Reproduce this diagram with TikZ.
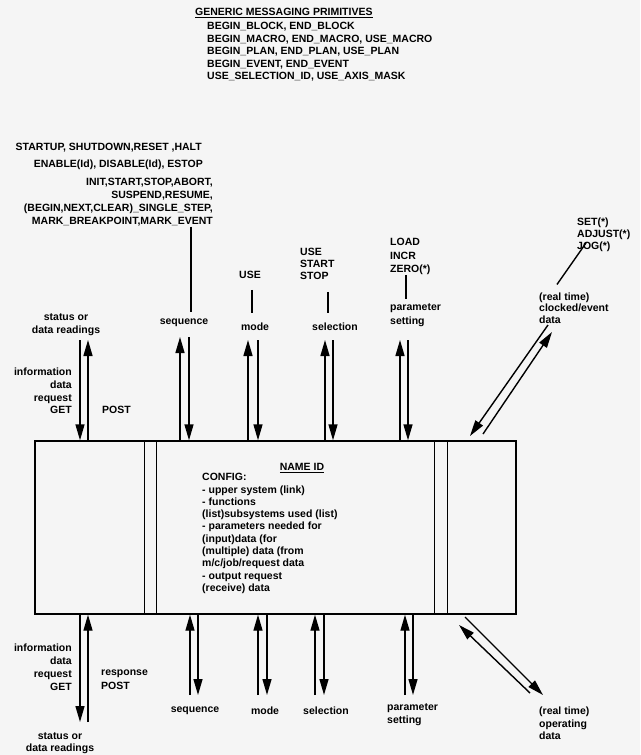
\documentclass[tikz,border=0pt]{standalone}
\usepackage{fontspec}
\setmainfont{Liberation Sans}
\usepackage{tikz}
\usetikzlibrary{positioning, arrows.meta, calc}

\begin{document}
\begin{tikzpicture}[x=1pt, y=-1pt,
    lbl/.style={font=\fontsize{10.5}{12.5}\selectfont\bfseries, inner sep=0pt},
    sig/.style={line width=1.4pt, -{Triangle[length=16pt, width=9pt]}},
    tick/.style={line width=1.4pt},
    boxline/.style={line width=1.4pt}]
  \fill[black!4] (0,0) rectangle (640,755);
  \useasboundingbox (0,0) rectangle (640,755);

  % generic primitives
  \node[lbl, anchor=west] (title) at (195,13) {\underline{GENERIC MESSAGING PRIMITIVES}};
  \node[lbl, anchor=west, align=left] (prims) at (207,52) {BEGIN\_BLOCK, END\_BLOCK\\
    BEGIN\_MACRO, END\_MACRO, USE\_MACRO\\BEGIN\_PLAN, END\_PLAN, USE\_PLAN\\
    BEGIN\_EVENT, END\_EVENT\\USE\_SELECTION\_ID, USE\_AXIS\_MASK};

  % commands
  \node[lbl, anchor=east] (startup) at (202,148) {STARTUP, SHUTDOWN,RESET ,HALT};
  \node[lbl, anchor=east] (enable) at (203,165) {ENABLE(Id), DISABLE(Id), ESTOP};
  \node[lbl, anchor=east, align=right, font=\fontsize{10.5}{13}\selectfont\bfseries] (seqcmd) at (213,202.5)
    {INIT,START,STOP,ABORT,\\SUSPEND,RESUME,\\(BEGIN,NEXT,CLEAR)\_SINGLE\_STEP,\\MARK\_BREAKPOINT,MARK\_EVENT};
  \node[lbl] (modecmd) at (250,275) {USE};
  \node[lbl, anchor=west, align=left, font=\fontsize{10.5}{12}\selectfont\bfseries] (selcmd) at (300,264) {USE\\START\\STOP};
  \node[lbl, anchor=west, align=left, font=\fontsize{10.5}{13.5}\selectfont\bfseries] (parcmd) at (390,256.5) {LOAD\\INCR\\ZERO(*)};
  \node[lbl, anchor=west, align=left, font=\fontsize{10.5}{12}\selectfont\bfseries] (jog) at (577,235) {SET(*)\\ADJUST(*)\\JOG(*)};

  % labels above the unit
  \node[lbl, align=center] (stattop) at (66,324.5) {status or\\data readings};
  \node[lbl] (seqtop) at (184,323) {sequence};
  \node[lbl] (modetop) at (255,327) {mode};
  \node[lbl] (seltop) at (335,327) {selection};
  \node[lbl, anchor=west, align=left, font=\fontsize{10.5}{14}\selectfont\bfseries] (partop) at (390,315) {parameter\\setting};
  \node[lbl, anchor=west, align=left, font=\fontsize{10.5}{11.5}\selectfont\bfseries] (rttop) at (539,308) {(real time)\\clocked/event\\data};
  \node[lbl, anchor=east, align=right, font=\fontsize{10.5}{12.7}\selectfont\bfseries] (reqtop) at (72,391) {information\\data\\request\\GET};
  \node[lbl, anchor=west] (posttop) at (102,410) {POST};

  \coordinate (seqx) at (191,0);
  \coordinate (modex) at (252,0);
  \coordinate (selx) at (328,0);
  \coordinate (parx) at (406,0);
  \draw[tick, shorten >=7pt] (seqcmd.south -| seqx) -- (seqtop.north -| seqx);
  \draw[tick, shorten <=11pt, shorten >=10pt] (modecmd.south -| modex) -- (modetop.north -| modex);
  \draw[tick, shorten <=12pt, shorten >=10pt] (selcmd.south -| selx) -- (seltop.north -| selx);
  \draw[tick, shorten >=4pt] (parcmd.south -| parx) -- (partop.north -| parx);
  \draw[tick] ($(jog.west)+(9,8)$) -- ($(rttop.north west)+(18,-8)$);

  % the unit
  \node[draw, boxline, minimum width=481pt, minimum height=173pt, inner sep=0pt] (unit) at (275.5,527.5) {};
  \foreach \dx in {110,122,400,413}
    \draw[boxline] ([xshift=\dx pt]unit.north west) -- ([xshift=\dx pt]unit.south west);
  \node[lbl] (name) at (302,468) {\underline{NAME ID}};
  \node[lbl, anchor=west, align=left, font=\fontsize{10.5}{12.3}\selectfont\bfseries] (config) at (202,533.5)
    {CONFIG:\\- upper system (link)\\- functions\\(list)subsystems used (list)\\- parameters needed for\\
     (input)data (for\\(multiple) data (from\\m/c/job/request data\\- output request\\(receive) data};

  % arrows on top
  \foreach \dn/\up/\yt [count=\i] in {80/88/340, 189/180/337, 258/248/340, 333/325/340, 408/400/340} {
    \coordinate (tin\i) at (\dn,\yt);
    \coordinate (tout\i) at (\up,\yt);
    \draw[sig] (tin\i) -- (tin\i |- unit.north);
    \draw[sig] (tout\i |- unit.north) -- (tout\i);
  }
  \coordinate (rtin) at (548,325);
  \coordinate (rtinb) at (470,436);
  \coordinate (rtout) at (483,434);
  \coordinate (rtoutb) at (552,332);
  \draw[sig] (rtin) -- (rtinb);
  \draw[sig] (rtout) -- (rtoutb);

  % labels below the unit
  \node[lbl, anchor=east, align=right, font=\fontsize{10.5}{13}\selectfont\bfseries] (reqbot) at (72,667.5) {information\\data\\request\\GET};
  \node[lbl, anchor=west, align=left, font=\fontsize{10.5}{14}\selectfont\bfseries] (respbot) at (101,680) {response\\POST};
  \node[lbl, align=center] (statbot) at (60,743) {status or\\data readings};
  \node[lbl] (seqbot) at (195,711) {sequence};
  \node[lbl] (modebot) at (265,711) {mode};
  \node[lbl] (selbot) at (326,711) {selection};
  \node[lbl, anchor=west, align=left] (parbot) at (387,714.5) {parameter\\setting};
  \node[lbl, anchor=west, align=left] (rtbot) at (539,723.5) {(real time)\\operating\\data};

  % arrows below
  \foreach \dn/\up/\yb [count=\i] in {80/88/722, 198/190/695, 267/258/695, 324/315/695, 413/405/695} {
    \coordinate (bin\i) at (\dn,\yb);
    \coordinate (bout\i) at (\up,\yb);
    \draw[sig] (bin\i |- unit.south) -- (bin\i);
    \draw[sig] (bout\i) -- (bout\i |- unit.south);
  }
  \coordinate (opin) at (530,693);
  \coordinate (opinb) at (459,625);
  \coordinate (opout) at (465,617);
  \coordinate (opoutb) at (543,695);
  \draw[sig] (opin) -- (opinb);
  \draw[sig] (opout) -- (opoutb);
\end{tikzpicture}
\end{document}
